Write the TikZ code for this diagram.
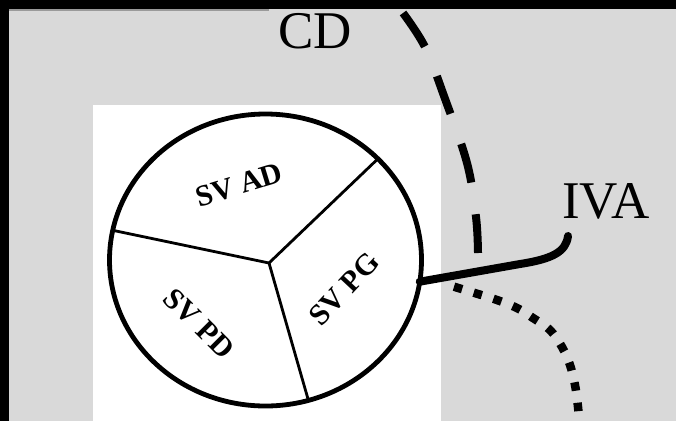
\documentclass[tikz,border=0pt]{standalone}
\usepackage{fontspec}
\setmainfont{Liberation Serif}
\usetikzlibrary{shapes.geometric}
\definecolor{panel}{HTML}{D9D9D9}
\definecolor{edgerule}{HTML}{9A9A9A}
\begin{document}
\begin{tikzpicture}[x=1pt,y=-1pt,
  rim/.style={draw, line width=4.8pt, ellipse, inner sep=0pt, outer sep=0pt,
    minimum width=312pt, minimum height=292pt},
  spoke/.style={line width=2.8pt},
  sector/.style={font=\fontsize{30}{30}\selectfont\bfseries, inner sep=0pt},
  vessel/.style={font=\fontsize{53}{53}\selectfont, inner sep=0pt},
  cdpath/.style={line width=8pt, dash pattern=on 40pt off 32pt},
  ivapath/.style={line width=8pt, line cap=round},
  dotpath/.style={line width=8.5pt, dash pattern=on 8.5pt off 12.1pt}]
\useasboundingbox (0,0) rectangle (676,421);
% background, frame and white panel
\fill[panel] (0,0) rectangle (676,421);
\fill[black] (0,0) rectangle (676,9);
\fill[black] (0,0) rectangle (9,421);
\draw[edgerule, line width=1.5pt] (9,10) -- (269,10);
\fill[white] (93,105) rectangle (441,421);

% vessel labels
\node[vessel, anchor=base] (cd) at (315,48) {CD};
\node[vessel, anchor=base] (iva) at (606,218) {IVA};

% the divided circle
\node[rim] (sv) at (265.5,260) {};
\coordinate (hub) at (269,263);
\draw[spoke] (hub) -- (sv.42.4);
\draw[spoke] (hub) -- (sv.169.8);
\draw[spoke] (hub) -- (sv.-73.9);

\node[sector, rotate=17] (ad) at (239,185) {SV AD};
\node[sector, rotate=-45] (pd) at (199,323.5) {SV PD};
\node[sector, rotate=47] (pg) at (344,289) {SV PG};

% dashed course
\draw[cdpath] plot[smooth, tension=0.6] coordinates
  {(403,13) (425,47) (444,96) (467,163) (476,217) (478,253)};

% dotted course
\draw[dotpath] plot[smooth, tension=0.6] coordinates
  {(454,286.7) (478,294) (497,300) (517,308) (533,318) (550,330)
   (562,347) (570,365) (575,385) (578,407) (580,432)};

% solid course into the circle
\coordinate (ivatip) at (568,236);
\draw[ivapath] (ivatip) .. controls (566,252) and (552,259) .. (520,264) -- (sv.-8.6);
\end{tikzpicture}
\end{document}
